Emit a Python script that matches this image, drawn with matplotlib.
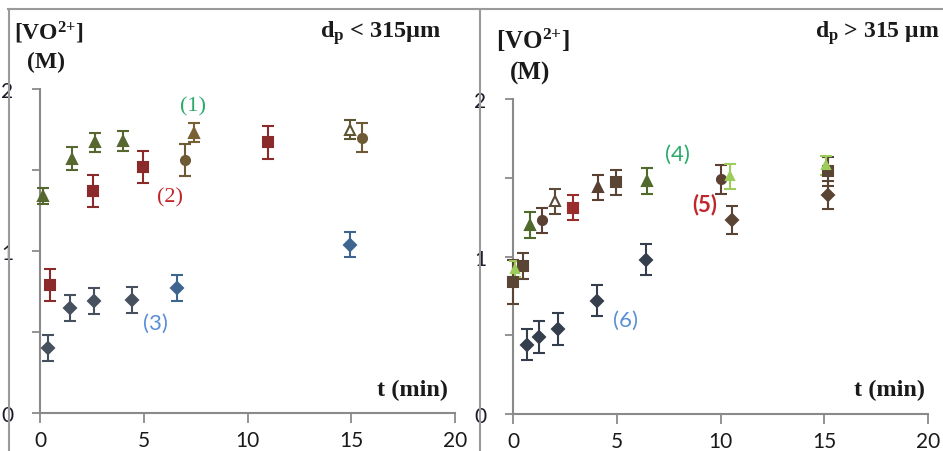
import matplotlib
matplotlib.use("Agg")
import matplotlib.pyplot as plt
from matplotlib.lines import Line2D

plt.rcParams['mathtext.fontset'] = 'custom'
plt.rcParams['mathtext.rm'] = 'Liberation Serif:bold'
plt.rcParams['mathtext.bf'] = 'Liberation Serif:bold'
plt.rcParams['mathtext.it'] = 'Liberation Serif:bold'

# ---- left panel data (dp < 315 um) ----
L_tri_t = [0.15, 1.55, 2.65, 4.0]
L_tri_c = [1.34, 1.57, 1.67, 1.68]
L_tri_e = [0.05, 0.07, 0.06, 0.06]
L_tri2_t = [7.4]
L_tri2_c = [1.73]
L_tri2_e = [0.06]
L_open_t = [14.95]
L_open_c = [1.75]
L_open_e = [0.06]
L_sq_t = [0.48, 2.55, 4.96, 11.0]
L_sq_c = [0.79, 1.37, 1.52, 1.67]
L_sq_e = [0.10, 0.10, 0.10, 0.10]
L_circ_t = [7.0, 15.5]
L_circ_c = [1.56, 1.70]
L_circ_e = [0.10, 0.09]
L_dia_t = [0.37, 1.45, 2.6, 4.45]
L_dia_c = [0.40, 0.65, 0.69, 0.70]
L_dia_e = [0.08, 0.08, 0.08, 0.08]
L_diab_t = [6.6, 14.95]
L_diab_c = [0.77, 1.04]
L_diab_e = [0.08, 0.08]

# ---- right panel data (dp > 315 um) ----
R_dia_t = [0.68, 1.25, 2.17, 4.05, 6.4]
R_dia_c = [0.44, 0.49, 0.54, 0.72, 0.98]
R_dia_e = [0.10, 0.10, 0.10, 0.10, 0.10]
R_diab_t = [10.55, 15.2]
R_diab_c = [1.23, 1.39]
R_diab_e = [0.09, 0.09]
R_tri_t = [0.82, 6.45]
R_tri_c = [1.20, 1.48]
R_tri_e = [0.08, 0.08]
R_tri2_t = [4.1]
R_tri2_c = [1.44]
R_tri2_e = [0.08]
R_tril_t = [0.1, 10.45, 15.1]
R_tril_c = [0.92, 1.51, 1.58]
R_tril_e = [0.05, 0.08, 0.06]
R_sq_t = [0.0, 0.48, 4.96, 15.2]
R_sq_c = [0.84, 0.94, 1.47, 1.54]
R_sq_e = [0.14, 0.08, 0.08, 0.09]
R_sqr_t = [2.9]
R_sqr_c = [1.31]
R_sqr_e = [0.08]
R_circ_t = [1.4, 10.0]
R_circ_c = [1.23, 1.49]
R_circ_e = [0.08, 0.09]
R_open_t = [2.0]
R_open_c = [1.35]
R_open_e = [0.08]

xticks = [0, 5, 10, 15, 20]
yticks = [0, 0.5, 1, 1.5, 2]
ylabels = ['0', '', '1', '', '2']

W, H = 943, 452
fig = plt.figure(figsize=(W / 100, H / 100), dpi=100)


def px(x, y):
    return x / W, 1 - y / H


def series(ax, t, c, e, marker, color, ms=7, hollow=False):
    ax.errorbar(t, c, yerr=e, fmt=marker, color=color, ms=ms,
                mfc='white' if hollow else color, mec=color, mew=1.5,
                ecolor=color, elinewidth=1.5, capsize=4, capthick=1.5,
                clip_on=False, zorder=3)


def style(ax):
    ax.set_xlim(0, 20)
    ax.set_ylim(0, 2)
    for s in ['top', 'right']:
        ax.spines[s].set_visible(False)
    for s in ['left', 'bottom']:
        ax.spines[s].set_color('#8a8a8a')
        ax.spines[s].set_linewidth(1.5)
    ax.set_xticks(xticks)
    ax.set_yticks(yticks, ylabels)
    ax.tick_params(axis='x', direction='out', length=7, width=1.3, color='#8a8a8a',
                   labelsize=15, pad=5, labelcolor='#1a1a1a')
    ax.tick_params(axis='y', direction='out', length=6, width=1.3, color='#8a8a8a',
                   labelsize=15, pad=13, labelcolor='#1a1a2a')
    for lab in ax.get_xticklabels() + ax.get_yticklabels():
        lab.set_fontfamily('Lato')
    ax.patch.set_alpha(0)


# left axes: x 40..455 px, y 414..90 px
axL = fig.add_axes([40 / W, 1 - 414 / H, 415 / W, 324 / H])
style(axL)
series(axL, L_tri_t, L_tri_c, L_tri_e, '^', '#56682f')
series(axL, L_tri2_t, L_tri2_c, L_tri2_e, '^', '#7a6035')
series(axL, L_open_t, L_open_c, L_open_e, '^', '#5d5532', hollow=True)
series(axL, L_sq_t, L_sq_c, L_sq_e, 's', '#8b2a2a', ms=6.5)
series(axL, L_circ_t, L_circ_c, L_circ_e, 'o', '#6e5a35', ms=6.5)
series(axL, L_dia_t, L_dia_c, L_dia_e, 'D', '#47505e', ms=6)
series(axL, L_diab_t, L_diab_c, L_diab_e, 'D', '#3d6590', ms=6)

# right axes: x 513..928 px, y 415..100 px
axR = fig.add_axes([513 / W, 1 - 415 / H, 415 / W, 315 / H])
style(axR)
series(axR, R_dia_t, R_dia_c, R_dia_e, 'D', '#343e4c', ms=6)
series(axR, R_diab_t, R_diab_c, R_diab_e, 'D', '#5a4535', ms=6)
series(axR, R_sq_t, R_sq_c, R_sq_e, 's', '#5a4535', ms=6.5)
series(axR, R_sqr_t, R_sqr_c, R_sqr_e, 's', '#9b2c2c', ms=6.5)
series(axR, R_circ_t, R_circ_c, R_circ_e, 'o', '#5c4033', ms=6.5)
series(axR, R_open_t, R_open_c, R_open_e, '^', '#5c4a3a', hollow=True)
series(axR, R_tri_t, R_tri_c, R_tri_e, '^', '#4f6a2a')
series(axR, R_tri2_t, R_tri2_c, R_tri2_e, '^', '#5a4030')
series(axR, R_tril_t, R_tril_c, R_tril_e, '^', '#9ccc5a', ms=6)

# panel frames
frame = dict(color='#9a9a9a', lw=1.5, transform=fig.transFigure)
fig.add_artist(Line2D([8 / W, 1], [1 - 10 / H] * 2, **frame))
fig.add_artist(Line2D([9 / W] * 2, [0, 1 - 10 / H], **frame))
fig.add_artist(Line2D([480 / W] * 2, [0, 1 - 10 / H], **frame))

serif = dict(family='Liberation Serif', weight='bold', color='#1a1a1a')
vo = r'[VO$^{2{+}}$]'
# left panel texts
fig.text(*px(14, 33), vo, fontsize=17, ha='left', va='center', **serif)
fig.text(*px(27, 62), '(M)', fontsize=17, ha='left', va='center', **serif)
fig.text(*px(442, 33), r'd$_{\rm p}$ < 315μm', fontsize=17.5, ha='right', va='center', **serif)
fig.text(*px(448, 390), 't (min)', fontsize=17.5, ha='right', va='center', **serif)
fig.text(*px(193, 107), '(1)', fontsize=16, ha='center', va='center',
         family='Liberation Serif', color='#2aaa6a')
fig.text(*px(170, 198), '(2)', fontsize=16, ha='center', va='center',
         family='Liberation Serif', color='#c0272d')
fig.text(*px(155, 324), '(3)', fontsize=16, ha='center', va='center',
         family='Lato', color='#5b8fd6')

# right panel texts
fig.text(*px(496, 40), vo, fontsize=18, ha='left', va='center', **serif)
fig.text(*px(510, 73), '(M)', fontsize=18, ha='left', va='center', **serif)
fig.text(*px(940, 33), r'd$_{\rm p}$ > 315 μm', fontsize=17, ha='right', va='center', **serif)
fig.text(*px(925, 390), 't (min)', fontsize=17.5, ha='right', va='center', **serif)
fig.text(*px(677, 155), '(4)', fontsize=16, ha='center', va='center',
         family='Lato', color='#2aaa6a')
fig.text(*px(705, 205), '(5)', fontsize=16, ha='center', va='center',
         family='Lato', weight='bold', color='#c0272d')
fig.text(*px(626, 321), '(6)', fontsize=16, ha='center', va='center',
         family='Lato', color='#5b8fd6')

fig.savefig('out.png', dpi=100)
